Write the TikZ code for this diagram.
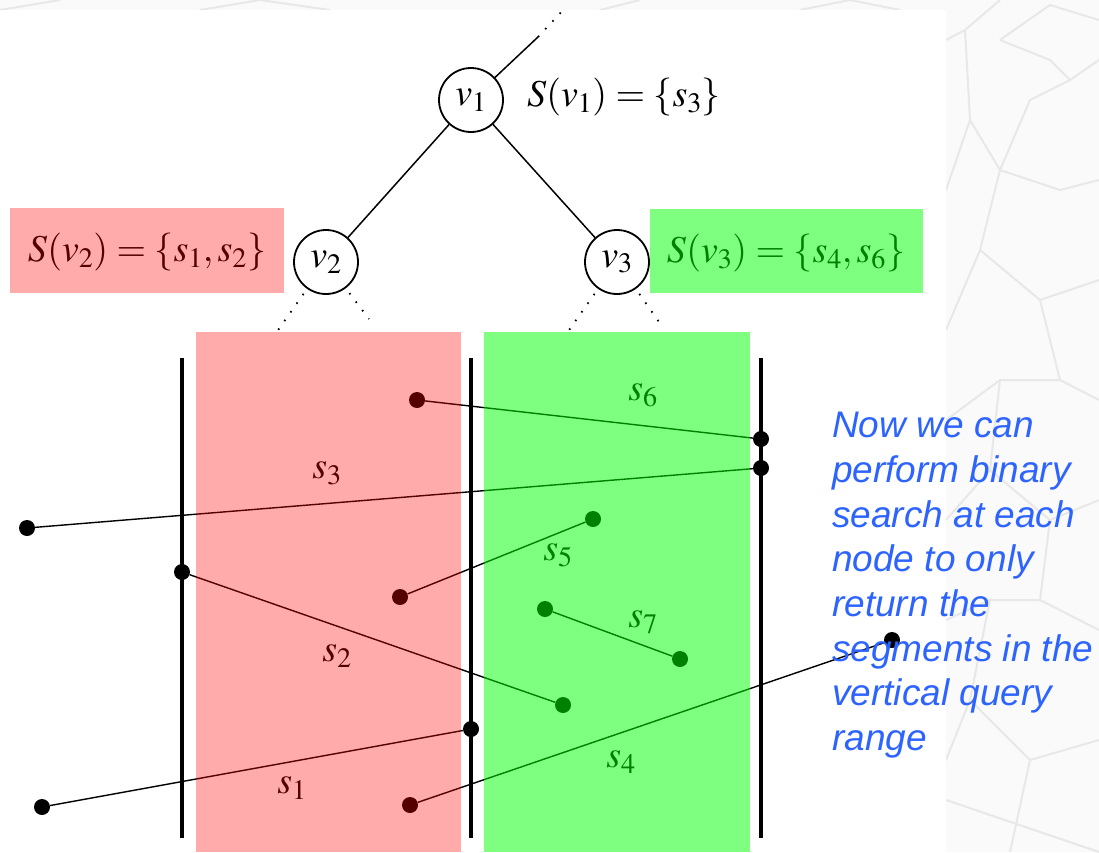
\documentclass[tikz,border=0pt]{standalone}
\usepackage{mathptmx}
\usepackage{fontspec}
\usepackage{tikz}

\newfontfamily\notefont{Liberation Sans}
\newcommand{\bigmath}{\fontsize{38}{46}\selectfont}
\definecolor{noteblue}{RGB}{45,100,255}

\begin{document}
\begin{tikzpicture}
 [x=1pt, y=-1pt,
  tree node/.style={circle, draw, line width=1.8pt, minimum size=64pt, inner sep=0pt, fill=white, font=\bigmath},
  end point/.style={circle, fill=black, minimum size=16pt, inner sep=0pt},
  seg/.style={line width=1.4pt},
  cut/.style={line width=4pt},
  dots/.style={line width=1.8pt, dash pattern=on 1.6pt off 9pt, shorten <=6pt},
  lab/.style={font=\bigmath},
  tile/.style={black!9, line width=2pt},
  red over/.style={fill=red, fill opacity=0.33},
  green over/.style={fill=green, fill opacity=0.5}]

\useasboundingbox (0,0) rectangle (1099,852);
% slide background
\fill[black!2] (0,0) rectangle (1099,852);
\draw[tile] (946,40) -- (965,30) -- (1000,0);
\draw[tile] (965,30) -- (970,120) -- (1000,170) -- (1030,100) -- (1070,80) -- (1099,60);
\draw[tile] (1000,40) -- (1050,5) -- (1099,20);
\draw[tile] (1000,40) -- (1050,60) -- (1070,80);
\draw[tile] (946,190) -- (970,120);
\draw[tile] (1000,170) -- (1060,190) -- (1099,180);
\draw[tile] (1000,170) -- (980,250) -- (1040,300) -- (1099,280);
\draw[tile] (946,330) -- (980,250);
\draw[tile] (1040,300) -- (1060,380) -- (1099,400);
\draw[tile] (946,420) -- (1000,380) -- (1060,380);
\draw[tile] (1000,380) -- (990,470) -- (1050,520) -- (1099,500);
\draw[tile] (946,520) -- (990,470);
\draw[tile] (1050,520) -- (1040,600) -- (1099,630);
\draw[tile] (946,620) -- (990,600) -- (1040,600);
\draw[tile] (990,600) -- (970,700) -- (1030,760) -- (1099,740);
\draw[tile] (946,760) -- (970,700);
\draw[tile] (1030,760) -- (1010,852);
\draw[tile] (946,800) -- (1099,852);
\draw[tile] (0,10) -- (60,0);
\draw[tile] (200,10) -- (260,0) -- (330,10);
\draw[tile] (600,10) -- (640,0);
\draw[tile] (800,10) -- (850,0) -- (900,10);
\fill[white] (0,10) rectangle (946,852);

% the tree
\node[tree node] (v1) at (471,100) {$v_1$};
\node[tree node] (v2) at (326,262) {$v_2$};
\node[tree node] (v3) at (617,262) {$v_3$};
\coordinate (up) at (538,37);
\coordinate (upend) at (565,8);
\coordinate (v2l) at (276,333);
\coordinate (v2r) at (369,319);
\coordinate (v3l) at (567,333);
\coordinate (v3r) at (659,322);

\path
  (v1) edge [line width=1.5pt] (up)
  (v1) edge [line width=1.5pt] (v2)
  (v1) edge [line width=1.5pt] (v3);
\draw[dots, shorten <=0pt] (up) -- (upend);
\draw[dots] (v2) -- (v2l);
\draw[dots] (v2) -- (v2r);
\draw[dots] (v3) -- (v3l);
\draw[dots] (v3) -- (v3r);

\node[lab] (sv1) at (624,97) {$S(v_1)=\{s_3\}$};
\node[lab] (sv2) at (147,252) {$S(v_2)=\{s_1,s_2\}$};
\node[lab] (sv3) at (786,253) {$S(v_3)=\{s_4,s_6\}$};

% the slabs
\coordinate (c1t) at (182,358); \coordinate (c1b) at (182,838);
\coordinate (c2t) at (471,358); \coordinate (c2b) at (471,838);
\coordinate (c3t) at (761,358); \coordinate (c3b) at (761,838);
\draw[cut] (c1t) -- (c1b);
\draw[cut] (c2t) -- (c2b);
\draw[cut] (c3t) -- (c3b);

% the segments
\node[end point] (s1a) at (42,807) {};
\node[end point] (s1b) at (471,729) {};
\node[end point] (s2a) at (182,572) {};
\node[end point] (s2b) at (563,705) {};
\node[end point] (s3a) at (27,528) {};
\node[end point] (s3b) at (761,468) {};
\node[end point] (s4a) at (410,805) {};
\node[end point] (s4b) at (892,640) {};
\node[end point] (s5a) at (400,597) {};
\node[end point] (s5b) at (593,519) {};
\node[end point] (s6a) at (417,400) {};
\node[end point] (s6b) at (761,439) {};
\node[end point] (s7a) at (545,609) {};
\node[end point] (s7b) at (680,659) {};

\path
  (s1a) edge [seg] (s1b)
  (s2a) edge [seg] (s2b)
  (s3a) edge [seg] (s3b)
  (s4a) edge [seg] (s4b)
  (s5a) edge [seg] (s5b)
  (s6a) edge [seg] (s6b)
  (s7a) edge [seg] (s7b);

\node[lab] (l1) at (292,788) {$s_1$};
\node[lab] (l2) at (337,656) {$s_2$};
\node[lab] (l3) at (327,473) {$s_3$};
\node[lab] (l4) at (621,762) {$s_4$};
\node[lab] (l5) at (558,555) {$s_5$};
\node[lab] (l6) at (643,395) {$s_6$};
\node[lab] (l7) at (643,622) {$s_7$};

% coloured overlays
\fill[red over] (10,208) rectangle (284,293);
\fill[green over] (650,209) rectangle (923,293);
\fill[red over] (196,332) rectangle (461,852);
\fill[green over] (484,332) rectangle (750,852);

\node[anchor=north west, inner sep=0pt, align=left, text=noteblue,
      font=\notefont\itshape\fontsize{37}{44.7}\selectfont] (note) at (832,412)
  {Now we can\\perform binary\\search at each\\node to only\\return the\\segments in the\\vertical query\\range};

\end{tikzpicture}
\end{document}
